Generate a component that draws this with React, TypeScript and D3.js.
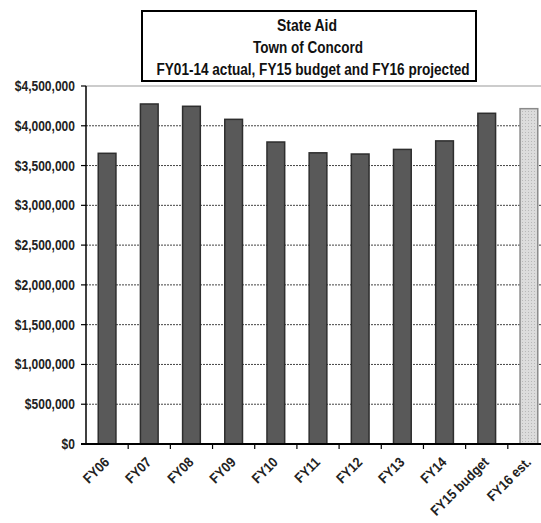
import React from "react";
import * as d3 from "d3";

const categories = ["FY06", "FY07", "FY08", "FY09", "FY10", "FY11", "FY12", "FY13", "FY14", "FY15 budget", "FY16 est."];
const values = [3654000, 4274000, 4245000, 4081000, 3796000, 3660000, 3645000, 3703000, 3810000, 4157000, 4215000];
const projected = [false, false, false, false, false, false, false, false, false, false, true];
const yTicks = [0, 500000, 1000000, 1500000, 2000000, 2500000, 3000000, 3500000, 4000000, 4500000];
const titleLines = ["State Aid", "Town of Concord", "FY01-14 actual, FY15 budget and FY16 projected"];

export default function App() {
  const W = 541, H = 523;
  const x0 = 86, x1 = 550, yTop = 86, yBot = 444;
  const x = d3.scaleBand<string>().domain(categories).range([x0, x1]).paddingInner(0.58).paddingOuter(0.29);
  const xb = d3.scaleBand<string>().domain(categories).range([x0, x1]);
  const y = d3.scaleLinear().domain([0, 4500000]).range([yBot, yTop]);
  const fmt = (v: number) => "$" + d3.format(",")(v);
  const font = "'Liberation Sans', Arial, sans-serif";
  const sx = 0.9;
  const sy = 0.86;
  return (
    <svg width={W} height={H} style={{ position: "absolute", left: 0, top: 0, background: "#fff" }} fontFamily={font}>
      <defs>
        <pattern id="dots" width="3" height="3" patternUnits="userSpaceOnUse">
          <rect width="3" height="3" fill="#dcdcdc" />
          <rect width="1" height="1" fill="#b8b8b8" />
        </pattern>
      </defs>
      {/* gridlines */}
      {yTicks.filter(t => t > 0 && t < 4500000).map(t => (
        <line key={t} x1={x0} x2={x1} y1={y(t)} y2={y(t)} stroke="#444" strokeWidth={1} strokeDasharray="2,1" />
      ))}
      <line x1={x0} x2={x1} y1={y(4500000)} y2={y(4500000)} stroke="#999" strokeWidth={1.2} />
      {/* bars */}
      {categories.map((c, i) => (
        <rect key={c} x={x(c)} y={y(values[i])} width={x.bandwidth()} height={yBot - y(values[i])}
          fill={projected[i] ? "url(#dots)" : "#595959"} stroke={projected[i] ? "#8a8a8a" : "#2e2e2e"} strokeWidth={1.5} />
      ))}
      {/* y axis */}
      <line x1={x0} x2={x0} y1={yTop} y2={yBot} stroke="#000" strokeWidth={1.5} />
      {yTicks.map(t => (
        <g key={t}>
          <line x1={x0 - 5} x2={x0} y1={y(t)} y2={y(t)} stroke="#000" strokeWidth={1.2} />
          <g transform={`scale(${sy},1)`}>
            <text x={75 / sy} y={y(t)} dy="0.36em" textAnchor="end" fontSize={14} fontWeight="bold" fill="#222">{fmt(t)}</text>
          </g>
        </g>
      ))}
      {/* x axis */}
      <line x1={x0 - 5} x2={x1} y1={yBot} y2={yBot} stroke="#000" strokeWidth={2} />
      {categories.map(c => (
        <line key={c} x1={(xb(c) as number) + xb.bandwidth()} x2={(xb(c) as number) + xb.bandwidth()} y1={yBot} y2={yBot + 5} stroke="#000" strokeWidth={1.2} />
      ))}
      {categories.map(c => {
        const cx = (xb(c) as number) + xb.bandwidth() / 2 + 3;
        const cy = yBot + 19;
        return (
          <g key={c} transform={`translate(${cx},${cy}) rotate(-45) scale(${sx},1)`}>
            <text x={0} y={0} textAnchor="end" fontSize={14} fontWeight="bold" fill="#222">{c}</text>
          </g>
        );
      })}
      {/* title box */}
      <rect x={142} y={11} width={334} height={70} fill="#fff" stroke="#000" strokeWidth={2} />
      <text x={307} y={31} textAnchor="middle" fontSize={16} fontWeight="bold" fill="#111" textLength={60} lengthAdjust="spacingAndGlyphs">{titleLines[0]}</text>
      <text x={308} y={53} textAnchor="middle" fontSize={16} fontWeight="bold" fill="#111" textLength={110} lengthAdjust="spacingAndGlyphs">{titleLines[1]}</text>
      <text x={313} y={75} textAnchor="middle" fontSize={16} fontWeight="bold" fill="#111" textLength={313} lengthAdjust="spacingAndGlyphs">{titleLines[2]}</text>
    </svg>
  );
}
